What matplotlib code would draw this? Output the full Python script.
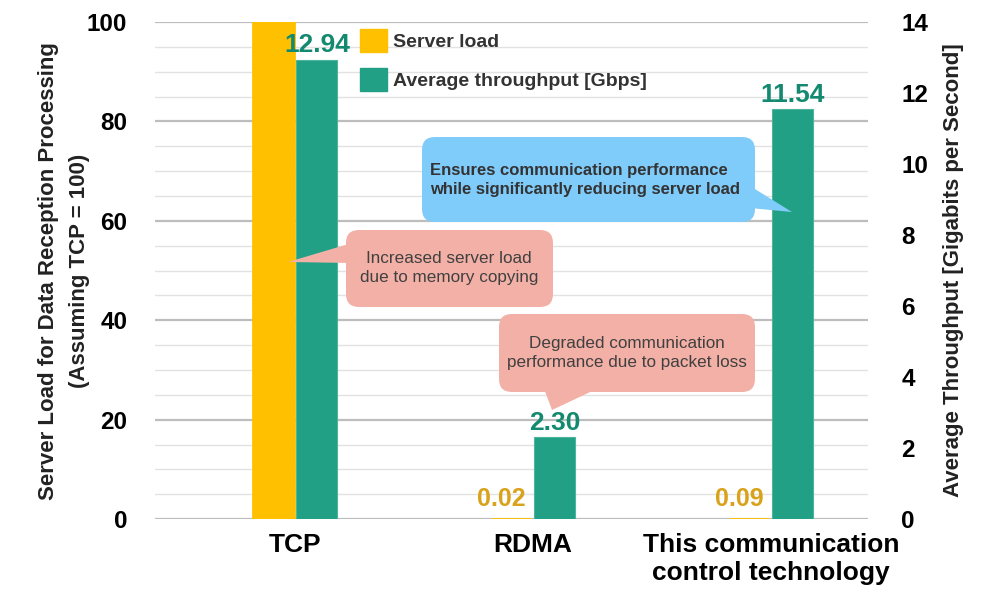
import matplotlib
matplotlib.use('Agg')
from matplotlib import pyplot as plt
from matplotlib.patches import FancyBboxPatch, Polygon, Patch
from matplotlib.transforms import IdentityTransform
import numpy as np

plt.rcParams['font.family'] = ['Liberation Sans', 'DejaVu Sans']

categories = ['TCP', 'RDMA', 'This communication\ncontrol technology']
server_load = [100, 0.02, 0.09]
throughput = [12.94, 2.30, 11.54]
load_labels = [None, '0.02', '0.09']
tp_labels = ['12.94', '2.30', '11.54']

yellow = '#FFC000'
green = '#21A085'
green_txt = '#138A70'
yellow_txt = '#D9A21B'
pink = '#F2B0A6'
blue = '#7FCBFA'

fig = plt.figure(figsize=(10, 5.96), dpi=100)
ax = fig.add_axes([0.155, 0.129, 0.713, 0.834])
ax2 = ax.twinx()

x = np.arange(len(categories))
w = 0.172
off = 0.092

ax.bar(x - off, server_load, w, color=yellow, edgecolor=yellow, linewidth=2, zorder=3)
ax2.bar(x + off, throughput, w, color=green, edgecolor='#4DB59C', linewidth=0.8, zorder=3)

ax.set_xlim(-0.588, 2.408)
ax.set_ylim(0, 100)
ax2.set_ylim(0, 14)
ax.set_yticks(np.arange(0, 101, 20))
ax.set_yticks(np.arange(0, 101, 5), minor=True)
ax2.set_yticks(np.arange(0, 15, 2))

ax.grid(axis='y', which='major', color='#BDBDBD', linewidth=1.6, zorder=0)
ax.grid(axis='y', which='minor', color='#E2E2E2', linewidth=1.0, zorder=0)
ax.set_axisbelow(True)
for a in (ax, ax2):
    for s in a.spines.values():
        s.set_visible(False)
    a.tick_params(length=0)
ax.tick_params(axis='y', which='minor', length=0)

ax.set_xticks(x)
ax.set_xticklabels(categories, fontsize=19, fontweight='bold', linespacing=1.2)
ax.tick_params(axis='x', pad=10)
for lbl in ax.get_yticklabels():
    lbl.set_fontsize(17.5)
    lbl.set_fontweight('bold')
for lbl in ax2.get_yticklabels():
    lbl.set_fontsize(17.5)
    lbl.set_fontweight('bold')
ax.tick_params(axis='y', pad=20)
ax2.tick_params(axis='y', pad=24)

ax.set_ylabel('Server Load for Data Reception Processing\n(Assuming TCP = 100)',
              fontsize=16, fontweight='bold', color='#222222', labelpad=-2, linespacing=1.6)
ax2.set_ylabel('Average Throughput [Gigabits per Second]',
               fontsize=16, fontweight='bold', color='#222222', labelpad=11)

# value labels
for xi, v, t in zip(x, throughput, tp_labels):
    ax2.text(xi + off, v + 0.08, t, ha='center', va='bottom', fontsize=19,
             fontweight='bold', color=green_txt, zorder=4)
for xi, v, t in zip(x, server_load, load_labels):
    if t:
        ax.text(xi - off - 0.04, v + 1.6, t, ha='center', va='bottom', fontsize=18,
                fontweight='bold', color=yellow_txt, zorder=4)

# legend
handles = [Patch(facecolor=yellow, edgecolor=yellow, label='Server load'),
           Patch(facecolor=green, edgecolor=green, label='Average throughput [Gbps]')]
leg = ax2.legend(handles=handles, loc='upper left', bbox_to_anchor=(0.274, 1.005),
                 frameon=False, borderpad=0, handlelength=1.4, handleheight=1.4,
                 handletextpad=0.3, labelspacing=0.85,
                 prop={'size': 14, 'weight': 'bold'})
for t in leg.get_texts():
    t.set_color('#333333')

# callouts (pixel coordinates, origin top-left)
H = 596


def callout(x0, y0, x1, y1, tri, color):
    box = FancyBboxPatch((x0, H - y1), x1 - x0, y1 - y0,
                         boxstyle='round,pad=0,rounding_size=13',
                         facecolor=color, edgecolor='none',
                         transform=IdentityTransform(), zorder=5)
    fig.patches.append(box)
    poly = Polygon([(px, H - py) for px, py in tri], closed=True,
                   facecolor=color, edgecolor='none',
                   transform=IdentityTransform(), zorder=5)
    fig.patches.append(poly)


callout(422, 137, 755, 222, [(750, 186), (792, 212), (750, 208)], blue)
fig.text(430 / 1000, 1 - 180 / H,
         'Ensures communication performance\nwhile significantly reducing server load',
         ha='left', va='center', fontsize=12, fontweight='bold', color='#333333',
         linespacing=1.3, zorder=6)

callout(346, 230, 553, 307, [(352, 243), (288, 262), (352, 263)], pink)
fig.text(449 / 1000, 1 - 268 / H, 'Increased server load\ndue to memory copying',
         ha='center', va='center', fontsize=12.3, color='#404040', linespacing=1.3, zorder=6)

callout(499, 314, 755, 392, [(543, 386), (552, 410), (603, 386)], pink)
fig.text(627 / 1000, 1 - 353 / H, 'Degraded communication\nperformance due to packet loss',
         ha='center', va='center', fontsize=12.3, color='#404040', linespacing=1.3, zorder=6)

fig.savefig('out.png', dpi=100)
